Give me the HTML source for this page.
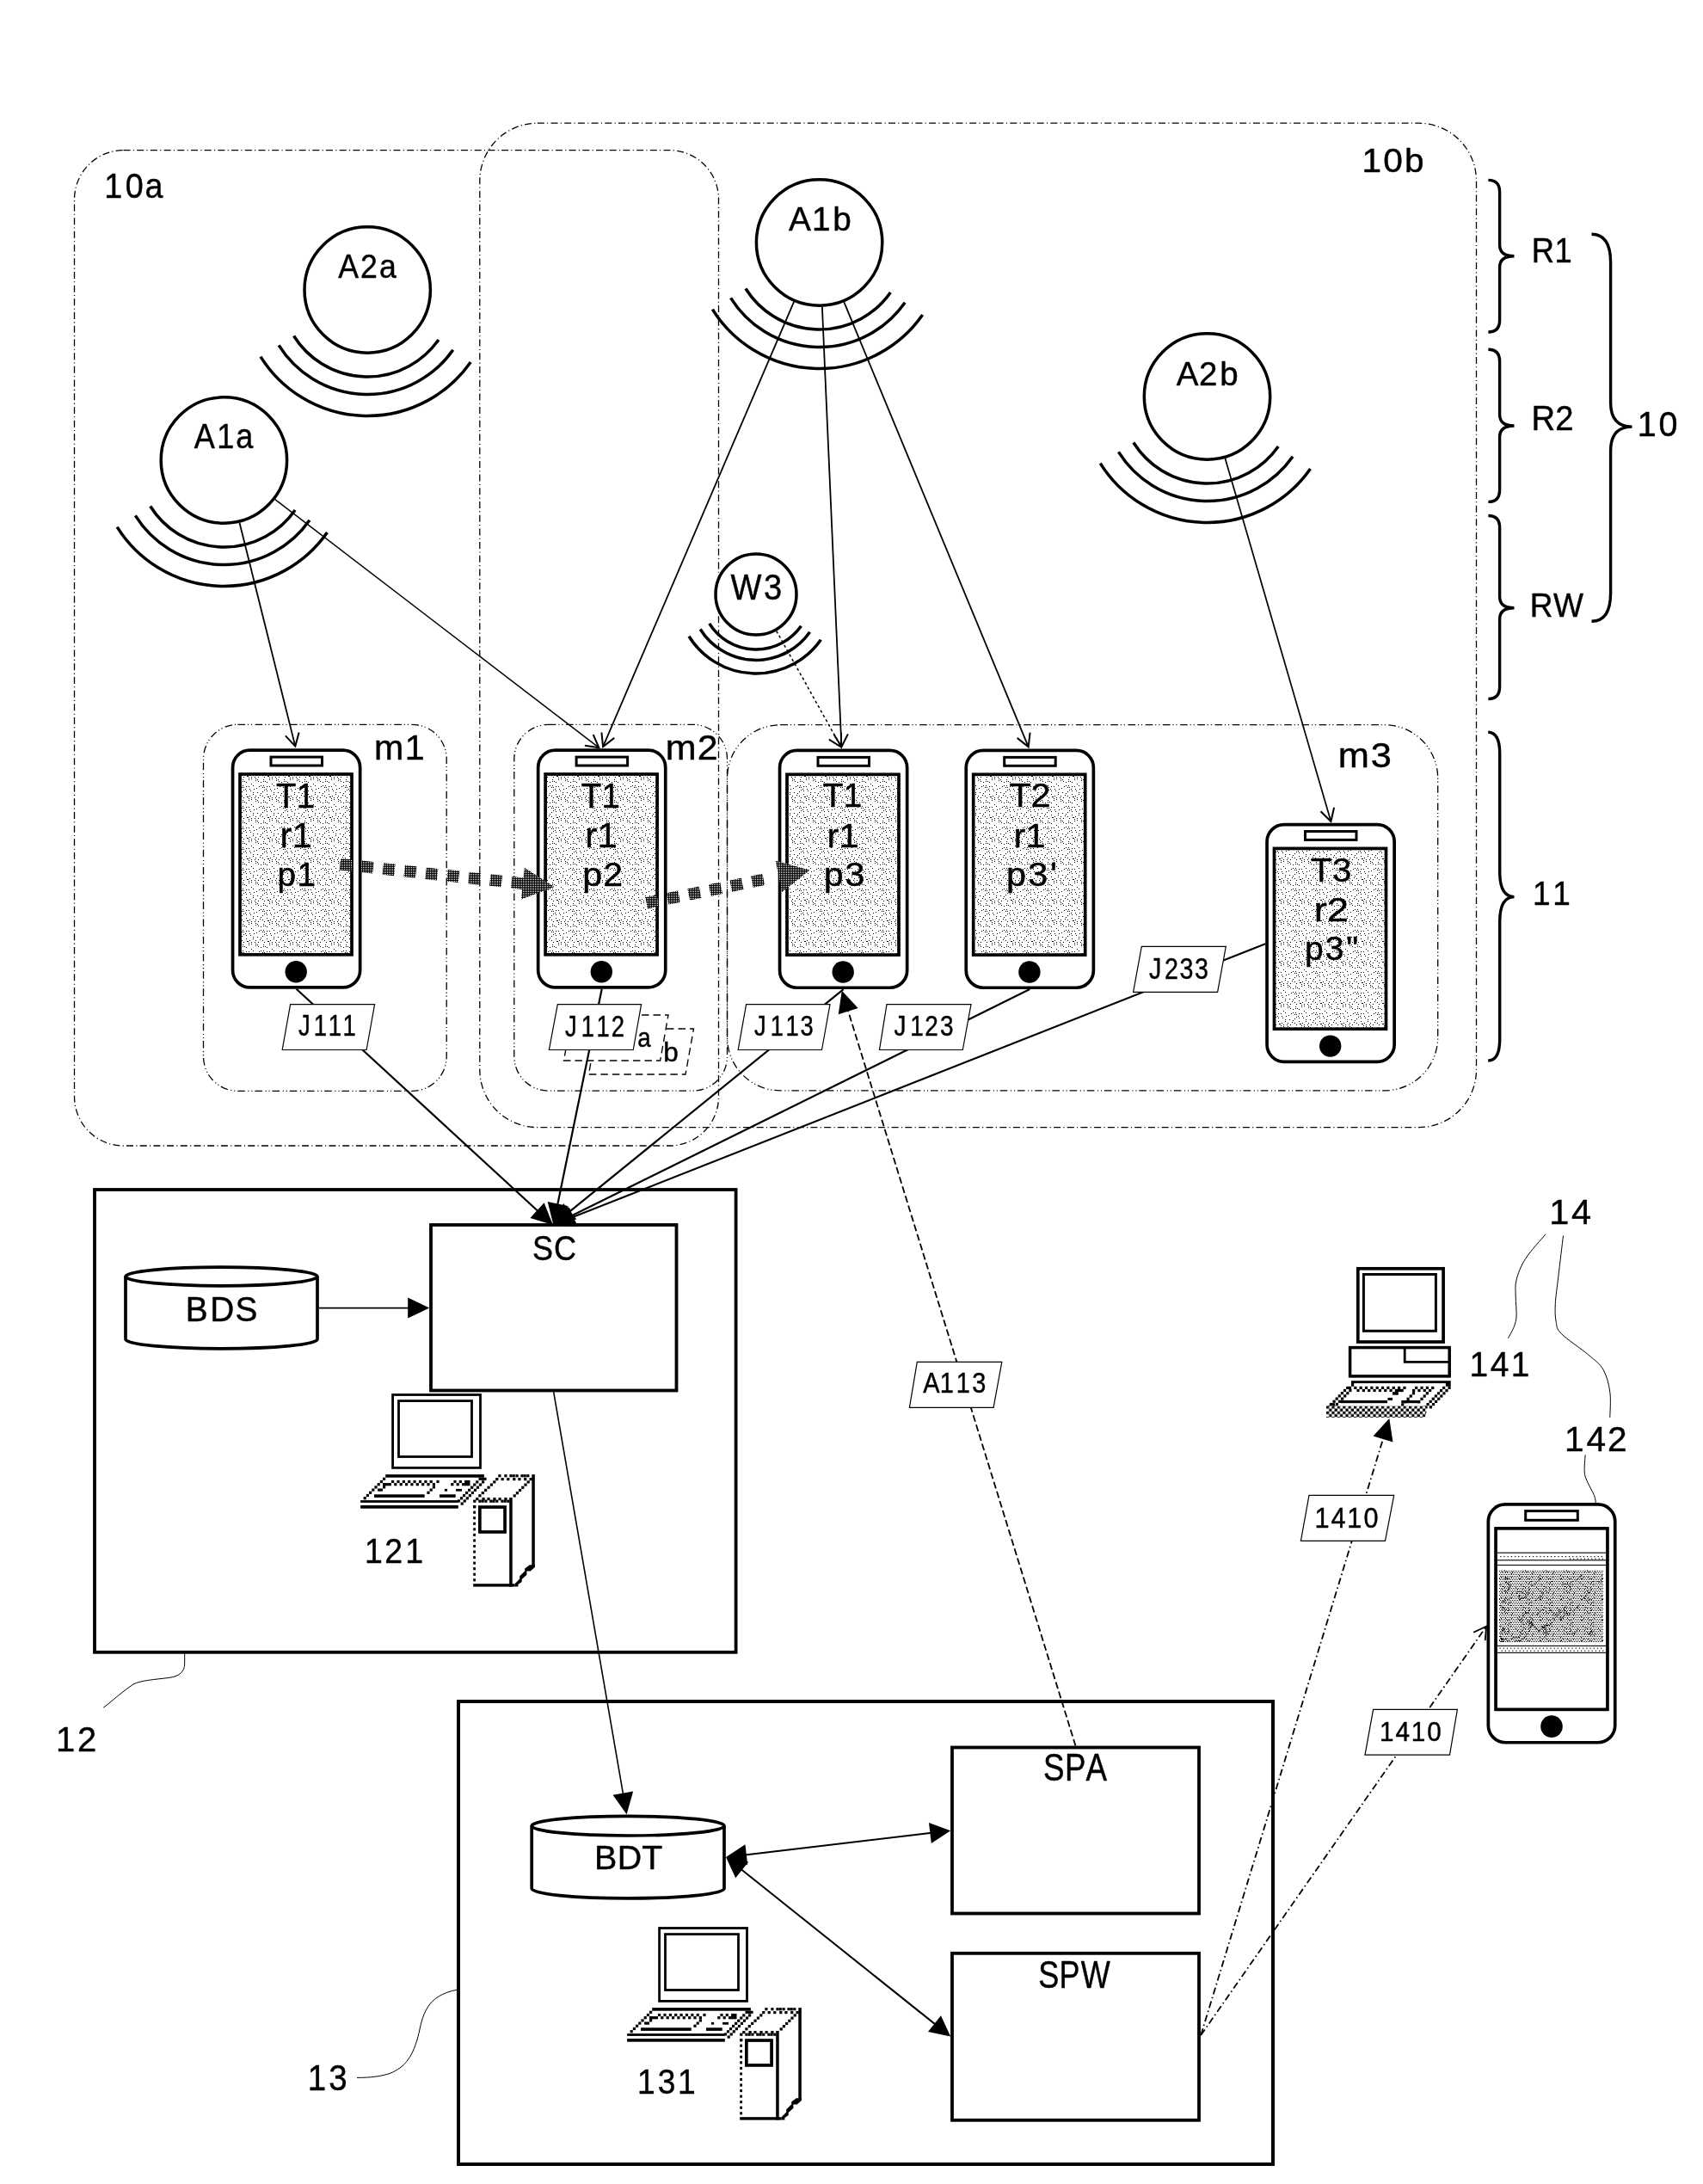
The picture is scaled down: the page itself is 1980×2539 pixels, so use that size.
<!DOCTYPE html>
<html><head><meta charset="utf-8"><title>diagram</title>
<style>html,body{margin:0;padding:0;background:#fff;}svg{display:block;will-change:transform;}text{font-family:"Liberation Sans",sans-serif;}</style>
</head><body>
<svg width="1980" height="2539" viewBox="0 0 1980 2539" font-family="Liberation Sans, sans-serif"><rect width="1980" height="2539" fill="#fff"/><defs>
<pattern id="stip" patternUnits="userSpaceOnUse" width="24" height="24"><rect width="24" height="24" fill="#fff"/><g fill="#000"><rect x="10" y="4" width="1" height="1"/><rect x="12" y="20" width="1" height="1"/><rect x="1" y="2" width="1" height="1"/><rect x="17" y="3" width="1" height="1"/><rect x="11" y="18" width="1" height="1"/><rect x="1" y="16" width="1" height="1"/><rect x="6" y="1" width="1" height="1"/><rect x="2" y="13" width="1" height="1"/><rect x="13" y="2" width="1" height="1"/><rect x="17" y="13" width="1" height="1"/><rect x="1" y="18" width="1" height="1"/><rect x="3" y="7" width="1" height="1"/><rect x="20" y="20" width="1" height="1"/><rect x="18" y="1" width="1" height="1"/><rect x="18" y="18" width="1" height="1"/><rect x="9" y="13" width="1" height="1"/><rect x="4" y="17" width="1" height="1"/><rect x="9" y="17" width="1" height="1"/><rect x="21" y="5" width="1" height="1"/><rect x="18" y="20" width="1" height="1"/><rect x="6" y="11" width="1" height="1"/><rect x="22" y="2" width="1" height="1"/><rect x="19" y="6" width="1" height="1"/><rect x="15" y="21" width="1" height="1"/><rect x="11" y="9" width="1" height="1"/><rect x="7" y="5" width="1" height="1"/><rect x="22" y="7" width="1" height="1"/><rect x="15" y="10" width="1" height="1"/><rect x="23" y="14" width="1" height="1"/><rect x="9" y="19" width="1" height="1"/><rect x="4" y="15" width="1" height="1"/><rect x="22" y="11" width="1" height="1"/><rect x="19" y="15" width="1" height="1"/><rect x="8" y="15" width="1" height="1"/><rect x="22" y="21" width="1" height="1"/><rect x="0" y="14" width="1" height="1"/><rect x="19" y="3" width="1" height="1"/><rect x="15" y="1" width="1" height="1"/><rect x="6" y="9" width="1" height="1"/><rect x="4" y="23" width="1" height="1"/><rect x="12" y="15" width="1" height="1"/><rect x="2" y="5" width="1" height="1"/><rect x="14" y="12" width="1" height="1"/><rect x="17" y="8" width="1" height="1"/></g></pattern>
<pattern id="stip2" patternUnits="userSpaceOnUse" width="24" height="24"><rect width="24" height="24" fill="#fff"/><g fill="#000"><rect x="0" y="0" width="1" height="1"/><rect x="0" y="3" width="1" height="1"/><rect x="0" y="4" width="1" height="1"/><rect x="0" y="8" width="1" height="1"/><rect x="0" y="11" width="1" height="1"/><rect x="0" y="12" width="1" height="1"/><rect x="0" y="16" width="1" height="1"/><rect x="0" y="20" width="1" height="1"/><rect x="1" y="0" width="1" height="1"/><rect x="1" y="2" width="1" height="1"/><rect x="1" y="6" width="1" height="1"/><rect x="1" y="10" width="1" height="1"/><rect x="1" y="14" width="1" height="1"/><rect x="1" y="17" width="1" height="1"/><rect x="1" y="18" width="1" height="1"/><rect x="1" y="21" width="1" height="1"/><rect x="1" y="22" width="1" height="1"/><rect x="2" y="0" width="1" height="1"/><rect x="2" y="4" width="1" height="1"/><rect x="2" y="8" width="1" height="1"/><rect x="2" y="11" width="1" height="1"/><rect x="2" y="12" width="1" height="1"/><rect x="2" y="15" width="1" height="1"/><rect x="2" y="16" width="1" height="1"/><rect x="2" y="20" width="1" height="1"/><rect x="2" y="23" width="1" height="1"/><rect x="3" y="2" width="1" height="1"/><rect x="3" y="6" width="1" height="1"/><rect x="3" y="10" width="1" height="1"/><rect x="3" y="14" width="1" height="1"/><rect x="3" y="18" width="1" height="1"/><rect x="3" y="22" width="1" height="1"/><rect x="4" y="0" width="1" height="1"/><rect x="4" y="4" width="1" height="1"/><rect x="4" y="8" width="1" height="1"/><rect x="4" y="12" width="1" height="1"/><rect x="4" y="14" width="1" height="1"/><rect x="4" y="16" width="1" height="1"/><rect x="4" y="18" width="1" height="1"/><rect x="4" y="20" width="1" height="1"/><rect x="5" y="2" width="1" height="1"/><rect x="5" y="5" width="1" height="1"/><rect x="5" y="6" width="1" height="1"/><rect x="5" y="9" width="1" height="1"/><rect x="5" y="10" width="1" height="1"/><rect x="5" y="14" width="1" height="1"/><rect x="5" y="18" width="1" height="1"/><rect x="5" y="22" width="1" height="1"/><rect x="6" y="0" width="1" height="1"/><rect x="6" y="3" width="1" height="1"/><rect x="6" y="4" width="1" height="1"/><rect x="6" y="8" width="1" height="1"/><rect x="6" y="12" width="1" height="1"/><rect x="6" y="16" width="1" height="1"/><rect x="6" y="20" width="1" height="1"/><rect x="7" y="2" width="1" height="1"/><rect x="7" y="6" width="1" height="1"/><rect x="7" y="10" width="1" height="1"/><rect x="7" y="14" width="1" height="1"/><rect x="7" y="18" width="1" height="1"/><rect x="7" y="22" width="1" height="1"/><rect x="8" y="0" width="1" height="1"/><rect x="8" y="4" width="1" height="1"/><rect x="8" y="8" width="1" height="1"/><rect x="8" y="12" width="1" height="1"/><rect x="8" y="16" width="1" height="1"/><rect x="8" y="20" width="1" height="1"/><rect x="9" y="2" width="1" height="1"/><rect x="9" y="6" width="1" height="1"/><rect x="9" y="10" width="1" height="1"/><rect x="9" y="14" width="1" height="1"/><rect x="9" y="18" width="1" height="1"/><rect x="9" y="22" width="1" height="1"/><rect x="10" y="0" width="1" height="1"/><rect x="10" y="4" width="1" height="1"/><rect x="10" y="8" width="1" height="1"/><rect x="10" y="12" width="1" height="1"/><rect x="10" y="16" width="1" height="1"/><rect x="10" y="20" width="1" height="1"/><rect x="10" y="21" width="1" height="1"/><rect x="11" y="2" width="1" height="1"/><rect x="11" y="6" width="1" height="1"/><rect x="11" y="10" width="1" height="1"/><rect x="11" y="14" width="1" height="1"/><rect x="11" y="18" width="1" height="1"/><rect x="11" y="22" width="1" height="1"/><rect x="12" y="0" width="1" height="1"/><rect x="12" y="4" width="1" height="1"/><rect x="12" y="8" width="1" height="1"/><rect x="12" y="12" width="1" height="1"/><rect x="12" y="16" width="1" height="1"/><rect x="12" y="20" width="1" height="1"/><rect x="12" y="23" width="1" height="1"/><rect x="13" y="2" width="1" height="1"/><rect x="13" y="6" width="1" height="1"/><rect x="13" y="10" width="1" height="1"/><rect x="13" y="14" width="1" height="1"/><rect x="13" y="18" width="1" height="1"/><rect x="13" y="22" width="1" height="1"/><rect x="14" y="0" width="1" height="1"/><rect x="14" y="4" width="1" height="1"/><rect x="14" y="7" width="1" height="1"/><rect x="14" y="8" width="1" height="1"/><rect x="14" y="11" width="1" height="1"/><rect x="14" y="12" width="1" height="1"/><rect x="14" y="16" width="1" height="1"/><rect x="14" y="20" width="1" height="1"/><rect x="15" y="2" width="1" height="1"/><rect x="15" y="6" width="1" height="1"/><rect x="15" y="10" width="1" height="1"/><rect x="15" y="11" width="1" height="1"/><rect x="15" y="14" width="1" height="1"/><rect x="15" y="18" width="1" height="1"/><rect x="15" y="22" width="1" height="1"/><rect x="16" y="0" width="1" height="1"/><rect x="16" y="4" width="1" height="1"/><rect x="16" y="8" width="1" height="1"/><rect x="16" y="12" width="1" height="1"/><rect x="16" y="16" width="1" height="1"/><rect x="16" y="18" width="1" height="1"/><rect x="16" y="20" width="1" height="1"/><rect x="17" y="2" width="1" height="1"/><rect x="17" y="6" width="1" height="1"/><rect x="17" y="9" width="1" height="1"/><rect x="17" y="10" width="1" height="1"/><rect x="17" y="14" width="1" height="1"/><rect x="17" y="18" width="1" height="1"/><rect x="17" y="22" width="1" height="1"/><rect x="18" y="0" width="1" height="1"/><rect x="18" y="3" width="1" height="1"/><rect x="18" y="4" width="1" height="1"/><rect x="18" y="8" width="1" height="1"/><rect x="18" y="12" width="1" height="1"/><rect x="18" y="16" width="1" height="1"/><rect x="18" y="20" width="1" height="1"/><rect x="18" y="23" width="1" height="1"/><rect x="19" y="2" width="1" height="1"/><rect x="19" y="6" width="1" height="1"/><rect x="19" y="10" width="1" height="1"/><rect x="19" y="14" width="1" height="1"/><rect x="19" y="18" width="1" height="1"/><rect x="19" y="20" width="1" height="1"/><rect x="19" y="22" width="1" height="1"/><rect x="20" y="0" width="1" height="1"/><rect x="20" y="4" width="1" height="1"/><rect x="20" y="8" width="1" height="1"/><rect x="20" y="12" width="1" height="1"/><rect x="20" y="16" width="1" height="1"/><rect x="20" y="20" width="1" height="1"/><rect x="21" y="1" width="1" height="1"/><rect x="21" y="2" width="1" height="1"/><rect x="21" y="6" width="1" height="1"/><rect x="21" y="10" width="1" height="1"/><rect x="21" y="14" width="1" height="1"/><rect x="21" y="18" width="1" height="1"/><rect x="21" y="21" width="1" height="1"/><rect x="21" y="22" width="1" height="1"/><rect x="22" y="0" width="1" height="1"/><rect x="22" y="3" width="1" height="1"/><rect x="22" y="4" width="1" height="1"/><rect x="22" y="8" width="1" height="1"/><rect x="22" y="9" width="1" height="1"/><rect x="22" y="12" width="1" height="1"/><rect x="22" y="15" width="1" height="1"/><rect x="22" y="16" width="1" height="1"/><rect x="22" y="20" width="1" height="1"/><rect x="23" y="2" width="1" height="1"/><rect x="23" y="6" width="1" height="1"/><rect x="23" y="10" width="1" height="1"/><rect x="23" y="14" width="1" height="1"/><rect x="23" y="18" width="1" height="1"/><rect x="23" y="22" width="1" height="1"/></g></pattern>
<pattern id="stip3" patternUnits="userSpaceOnUse" width="24" height="24"><rect width="24" height="24" fill="#fff"/><g fill="#000"><rect x="19" y="8" width="1" height="1"/><rect x="23" y="11" width="1" height="1"/><rect x="22" y="23" width="1" height="1"/><rect x="20" y="16" width="1" height="1"/><rect x="0" y="14" width="1" height="1"/><rect x="7" y="20" width="1" height="1"/><rect x="1" y="5" width="1" height="1"/><rect x="3" y="11" width="1" height="1"/><rect x="15" y="7" width="1" height="1"/><rect x="12" y="17" width="1" height="1"/><rect x="3" y="18" width="1" height="1"/><rect x="7" y="0" width="1" height="1"/><rect x="23" y="6" width="1" height="1"/><rect x="13" y="8" width="1" height="1"/><rect x="5" y="12" width="1" height="1"/><rect x="5" y="2" width="1" height="1"/><rect x="4" y="19" width="1" height="1"/><rect x="19" y="14" width="1" height="1"/><rect x="4" y="4" width="1" height="1"/><rect x="0" y="0" width="1" height="1"/><rect x="6" y="6" width="1" height="1"/><rect x="5" y="5" width="1" height="1"/><rect x="9" y="10" width="1" height="1"/><rect x="6" y="17" width="1" height="1"/><rect x="21" y="20" width="1" height="1"/><rect x="6" y="5" width="1" height="1"/><rect x="22" y="6" width="1" height="1"/><rect x="12" y="9" width="1" height="1"/><rect x="0" y="11" width="1" height="1"/><rect x="13" y="5" width="1" height="1"/><rect x="4" y="8" width="1" height="1"/><rect x="2" y="10" width="1" height="1"/><rect x="9" y="19" width="1" height="1"/><rect x="18" y="0" width="1" height="1"/></g></pattern>
<pattern id="dark" patternUnits="userSpaceOnUse" width="2" height="2"><rect width="2" height="2" fill="#000"/><rect x="0" y="0" width="1" height="1" fill="#fff"/></pattern>
<pattern id="check" patternUnits="userSpaceOnUse" width="6" height="6"><rect width="6" height="6" fill="#fff"/><rect width="3" height="3" fill="#000"/><rect x="3" y="3" width="3" height="3" fill="#000"/></pattern>
<pattern id="chk32" patternUnits="userSpaceOnUse" width="6.4" height="6.4" patternTransform="translate(1542 1634.4)"><rect width="6.4" height="6.4" fill="#fff"/><rect width="3.2" height="3.2" fill="#000"/><rect x="3.2" y="3.2" width="3.2" height="3.2" fill="#000"/></pattern>
<pattern id="dotl" patternUnits="userSpaceOnUse" width="3" height="3"><rect width="3" height="3" fill="#fff"/><rect width="1.5" height="1.5" fill="#000"/></pattern>
</defs><rect x="86.5" y="174.7" width="749" height="1157.3" rx="57" ry="57" fill="none" stroke="#000" stroke-width="1.3" stroke-dasharray="8 3.3 1.1 3.3"/>
<rect x="557.8" y="143.2" width="1158.7" height="1167.4" rx="67" ry="67" fill="none" stroke="#000" stroke-width="1.3" stroke-dasharray="8 3.3 1.1 3.3"/>
<rect x="236.5" y="842.3" width="282.7" height="426" rx="40" ry="40" fill="none" stroke="#000" stroke-width="1.3" stroke-dasharray="8.6 2.9 1.1 2.9 1.1 3.6"/>
<rect x="597.8" y="842.3" width="247.7" height="425.8" rx="40" ry="40" fill="none" stroke="#000" stroke-width="1.3" stroke-dasharray="8.6 2.9 1.1 2.9 1.1 3.6"/>
<rect x="845.5" y="842.7" width="826.2" height="425.2" rx="62" ry="62" fill="none" stroke="#000" stroke-width="1.3" stroke-dasharray="8.6 2.9 1.1 2.9 1.1 3.6"/>
<circle cx="427.2" cy="337" r="73.2" fill="#fff" stroke="#000" stroke-width="3.5"/>
<path d="M509.93 394.93 A101 101 0 0 1 341.55 390.52" fill="none" stroke="#000" stroke-width="3.5"/>
<path d="M526.73 406.69 A121.5 121.5 0 0 1 324.16 401.39" fill="none" stroke="#000" stroke-width="3.5"/>
<path d="M547.21 421.03 A146.5 146.5 0 0 1 302.96 414.63" fill="none" stroke="#000" stroke-width="3.5"/>
<circle cx="260.4" cy="535" r="73.2" fill="#fff" stroke="#000" stroke-width="3.5"/>
<path d="M343.13 592.93 A101 101 0 0 1 174.75 588.52" fill="none" stroke="#000" stroke-width="3.5"/>
<path d="M359.93 604.69 A121.5 121.5 0 0 1 157.36 599.39" fill="none" stroke="#000" stroke-width="3.5"/>
<path d="M380.41 619.03 A146.5 146.5 0 0 1 136.16 612.63" fill="none" stroke="#000" stroke-width="3.5"/>
<circle cx="952.6" cy="282" r="73.2" fill="#fff" stroke="#000" stroke-width="3.5"/>
<path d="M1035.33 339.93 A101 101 0 0 1 866.95 335.52" fill="none" stroke="#000" stroke-width="3.5"/>
<path d="M1052.13 351.69 A121.5 121.5 0 0 1 849.56 346.39" fill="none" stroke="#000" stroke-width="3.5"/>
<path d="M1072.61 366.03 A146.5 146.5 0 0 1 828.36 359.63" fill="none" stroke="#000" stroke-width="3.5"/>
<circle cx="1403.5" cy="461" r="73.2" fill="#fff" stroke="#000" stroke-width="3.5"/>
<path d="M1486.23 518.93 A101 101 0 0 1 1317.85 514.52" fill="none" stroke="#000" stroke-width="3.5"/>
<path d="M1503.03 530.69 A121.5 121.5 0 0 1 1300.46 525.39" fill="none" stroke="#000" stroke-width="3.5"/>
<path d="M1523.51 545.03 A146.5 146.5 0 0 1 1279.26 538.63" fill="none" stroke="#000" stroke-width="3.5"/>
<circle cx="879" cy="691" r="47" fill="#fff" stroke="#000" stroke-width="3.5"/>
<path d="M931.43 727.71 A64 64 0 0 1 824.72 724.91" fill="none" stroke="#000" stroke-width="3.5"/>
<path d="M941.58 734.82 A76.4 76.4 0 0 1 814.21 731.49" fill="none" stroke="#000" stroke-width="3.5"/>
<path d="M954.36 743.77 A92 92 0 0 1 800.98 739.75" fill="none" stroke="#000" stroke-width="3.5"/>
<text transform="translate(0 322.7) scale(0.9182 1)" x="428.34 456.23 480.16" y="0" font-size="38.81" font-family="Liberation Sans" fill="#000" stroke="#000" stroke-width="0.45">A2a</text>
<text transform="translate(0 521) scale(0.9053 1)" x="249.48 278.54 302.82" y="0" font-size="39.83" font-family="Liberation Sans" fill="#000" stroke="#000" stroke-width="0.45">A1a</text>
<text transform="translate(0 268.4) scale(0.9893 1)" x="927.04 954.12 978.74" y="0" font-size="39.19" font-family="Liberation Sans" fill="#000" stroke="#000" stroke-width="0.45">A1b</text>
<text transform="translate(0 447.5) scale(0.9784 1)" x="1397.87 1424.68 1449.64" y="0" font-size="39.33" font-family="Liberation Sans" fill="#000" stroke="#000" stroke-width="0.45">A2b</text>
<text transform="translate(0 696.9) scale(0.9080 1)" x="935.66 978.11" y="0" font-size="41.96" font-family="Liberation Sans" fill="#000" stroke="#000" stroke-width="0.45">W3</text>
<text transform="translate(0 230.4) scale(0.9328 1)" x="130.07 156.36 180.52" y="0" font-size="40.39" font-family="Liberation Sans" fill="#000" stroke="#000" stroke-width="0.45">10a</text>
<text transform="translate(0 200) scale(1.0512 1)" x="1506.35 1529.95 1553.57" y="0" font-size="38.64" font-family="Liberation Sans" fill="#000" stroke="#000" stroke-width="0.45">10b</text>
<path d="M1730.4 209.4 Q1743.6 209.4 1743.6 223.4 L1743.6 284.7 Q1743.6 297.7 1760.5 297.7 Q1743.6 297.7 1743.6 310.7 L1743.6 372 Q1743.6 386 1730.4 386" fill="none" stroke="#000" stroke-width="3.4"/>
<path d="M1730.4 406.2 Q1743.6 406.2 1743.6 420.2 L1743.6 482 Q1743.6 495 1760.5 495 Q1743.6 495 1743.6 508 L1743.6 569.4 Q1743.6 583.4 1730.4 583.4" fill="none" stroke="#000" stroke-width="3.4"/>
<path d="M1730.4 599.5 Q1743.6 599.5 1743.6 613.5 L1743.6 693.7 Q1743.6 706.7 1760.5 706.7 Q1743.6 706.7 1743.6 719.7 L1743.6 798.5 Q1743.6 812.5 1730.4 812.5" fill="none" stroke="#000" stroke-width="3.4"/>
<path d="M1850.5 272.2 Q1872.6 272.2 1872.6 305.2 L1872.6 468.1 Q1872.6 496.1 1897.5 496.1 Q1872.6 496.1 1872.6 524.1 L1872.6 689.3 Q1872.6 722.3 1850.5 722.3" fill="none" stroke="#000" stroke-width="3.4"/>
<path d="M1730.2 851.2 Q1743.7 851.2 1743.7 876.2 L1743.7 1013.6 Q1743.7 1042.6 1760.5 1042.6 Q1743.7 1042.6 1743.7 1071.6 L1743.7 1208 Q1743.7 1233 1730.2 1233" fill="none" stroke="#000" stroke-width="3.4"/>
<text transform="translate(0 305.1) scale(0.8929 1)" x="1994.23 2024.41" y="0" font-size="40.7" font-family="Liberation Sans" fill="#000" stroke="#000" stroke-width="0.45">R1</text>
<text transform="translate(0 500) scale(0.9536 1)" x="1867.04 1896.28" y="0" font-size="40.1" font-family="Liberation Sans" fill="#000" stroke="#000" stroke-width="0.45">R2</text>
<text transform="translate(0 716.5) scale(0.9505 1)" x="1871.33 1899.96" y="0" font-size="38.95" font-family="Liberation Sans" fill="#000" stroke="#000" stroke-width="0.45">RW</text>
<text transform="translate(0 506.5) scale(0.9893 1)" x="1924.44 1949.28" y="0" font-size="39.96" font-family="Liberation Sans" fill="#000" stroke="#000" stroke-width="0.45">10</text>
<text transform="translate(0 1051.7) scale(0.9351 1)" x="1905.55 1930.53" y="0" font-size="39.54" font-family="Liberation Sans" fill="#000" stroke="#000" stroke-width="0.45">11</text>
<text transform="translate(0 883.4) scale(0.9980 1)" x="435.8 471.71" y="0" font-size="41.28" font-family="Liberation Sans" fill="#000" stroke="#000" stroke-width="0.45">m1</text>
<text transform="translate(0 883.2) scale(1.0655 1)" x="726.21 761.02" y="0" font-size="40.39" font-family="Liberation Sans" fill="#000" stroke="#000" stroke-width="0.45">m2</text>
<text transform="translate(0 892) scale(1.0820 1)" x="1437.89 1473.07" y="0" font-size="40.1" font-family="Liberation Sans" fill="#000" stroke="#000" stroke-width="0.45">m3</text>
<line x1="278.51" y1="607.68" x2="343.06" y2="866.63" stroke="#000" stroke-width="1.8" stroke-linecap="butt"/>
<path d="M347.36 852.44 L343.3 867.6 L332.59 856.12" fill="none" stroke="#000" stroke-width="2" stroke-linejoin="miter" stroke-linecap="square"/>
<line x1="319.84" y1="580.57" x2="695.61" y2="868.69" stroke="#000" stroke-width="1.5" stroke-linecap="butt"/>
<path d="M690.13 854.9 L696.4 869.3 L680.87 866.99" fill="none" stroke="#000" stroke-width="2" stroke-linejoin="miter" stroke-linecap="square"/>
<line x1="923.06" y1="350.83" x2="701.49" y2="867.18" stroke="#000" stroke-width="1.8" stroke-linecap="butt"/>
<path d="M713.51 858.48 L701.1 868.1 L699.52 852.48" fill="none" stroke="#000" stroke-width="2" stroke-linejoin="miter" stroke-linecap="square"/>
<line x1="955.89" y1="356.83" x2="978.36" y2="867.3" stroke="#000" stroke-width="1.8" stroke-linecap="butt"/>
<path d="M985.4 854.25 L978.4 868.3 L970.19 854.92" fill="none" stroke="#000" stroke-width="2" stroke-linejoin="miter" stroke-linecap="square"/>
<line x1="981.29" y1="351.19" x2="1195.32" y2="867.38" stroke="#000" stroke-width="1.8" stroke-linecap="butt"/>
<path d="M1197.47 852.7 L1195.7 868.3 L1183.41 858.53" fill="none" stroke="#000" stroke-width="2" stroke-linejoin="miter" stroke-linecap="square"/>
<line x1="1424.45" y1="532.91" x2="1547.12" y2="954.04" stroke="#000" stroke-width="1.7" stroke-linecap="butt"/>
<path d="M1550.87 939.69 L1547.4 955 L1536.25 943.95" fill="none" stroke="#000" stroke-width="2" stroke-linejoin="miter" stroke-linecap="square"/>
<line x1="902.72" y1="733.53" x2="977.51" y2="867.63" stroke="#000" stroke-width="1.5" stroke-dasharray="3.2 3" stroke-linecap="butt"/>
<path d="M977.96 852.8 L978 868.5 L964.66 860.22" fill="none" stroke="#000" stroke-width="2" stroke-linejoin="miter" stroke-linecap="square"/>
<path d="M694 1196 L806.5 1196 L797 1249 L684.4 1249 Z" fill="#fff" stroke="#000" stroke-width="1.35" stroke-dasharray="8.5 5"/>
<text transform="translate(0 1233.6) scale(1.0091 1)" x="764.19" y="0" font-size="31.19" font-family="Liberation Mono" fill="#000" stroke="#000" stroke-width="0.45">b</text>
<path d="M665 1180 L777 1180 L767.6 1233 L655.5 1233 Z" fill="#fff" stroke="#000" stroke-width="1.35" stroke-dasharray="8.5 5"/>
<text transform="translate(0 1217.4) scale(0.8641 1)" x="857.81" y="0" font-size="32.15" font-family="Liberation Mono" fill="#000" stroke="#000" stroke-width="0.45">a</text>
<line x1="344.6" y1="1149.8" x2="635.54" y2="1417.23" stroke="#000" stroke-width="2.2" stroke-linecap="butt"/>
<line x1="699.7" y1="1149.8" x2="645.41" y2="1414.2" stroke="#000" stroke-width="2.2" stroke-linecap="butt"/>
<line x1="980.6" y1="1150.1" x2="651.06" y2="1417.7" stroke="#000" stroke-width="2.2" stroke-linecap="butt"/>
<line x1="1197.3" y1="1150.1" x2="652.16" y2="1419.57" stroke="#000" stroke-width="2.2" stroke-linecap="butt"/>
<line x1="1471.2" y1="1097.2" x2="652.5" y2="1420.33" stroke="#000" stroke-width="2.2" stroke-linecap="butt"/>
<path d="M642.9 1424 L616.37 1415.92 L632.62 1398.25 Z" fill="#000"/>
<path d="M643.4 1424 L636.67 1397.1 L660.18 1401.92 Z" fill="#000"/>
<path d="M643.3 1424 L655.14 1398.93 L670.27 1417.56 Z" fill="#000"/>
<path d="M643.2 1424 L660.29 1402.16 L670.93 1423.68 Z" fill="#000"/>
<path d="M643.2 1424 L662.05 1403.66 L670.86 1425.98 Z" fill="#000"/>
<line x1="1250.5" y1="2029.6" x2="983.23" y2="1166.03" stroke="#000" stroke-width="1.8" stroke-dasharray="8 3.6" stroke-linecap="butt"/>
<path d="M978.8 1151.7 L997.65 1172.03 L974.73 1179.13 Z" fill="#000"/>
<path d="M1327.3 1100.4 L1425.3 1100.4 L1415.6 1153.4 L1317.6 1153.4 Z" fill="#fff" stroke="#000" stroke-width="1.2"/>
<text transform="translate(0 1137.7) scale(0.8335 1)" x="1602.82 1624.52 1645.58 1666.58" y="0" font-size="34.38" font-family="Liberation Mono" fill="#000" stroke="#000" stroke-width="0.45">J233</text>
<path d="M337.6 1167.6 L435.6 1167.6 L426.1 1220.5 L328.2 1220.5 Z" fill="#fff" stroke="#000" stroke-width="1.2"/>
<text transform="translate(0 1204.4) scale(0.8000 1)" x="433.73 456.09 477.08 498.08" y="0" font-size="34.31" font-family="Liberation Mono" fill="#000" stroke="#000" stroke-width="0.45">J111</text>
<path d="M648.3 1167.6 L745.6 1167.6 L736.2 1220.5 L638.4 1220.5 Z" fill="#fff" stroke="#000" stroke-width="1.2"/>
<text transform="translate(0 1204.6) scale(0.8000 1)" x="821.14 844.79 866.94 888.34" y="0" font-size="34.23" font-family="Liberation Mono" fill="#000" stroke="#000" stroke-width="0.45">J112</text>
<path d="M867.6 1167.6 L965 1167.6 L955.5 1220.5 L858.2 1220.5 Z" fill="#fff" stroke="#000" stroke-width="1.2"/>
<text transform="translate(0 1204.4) scale(0.8266 1)" x="1060.91 1083.73 1105.11 1125.82" y="0" font-size="33.04" font-family="Liberation Mono" fill="#000" stroke="#000" stroke-width="0.45">J113</text>
<path d="M1031 1167.6 L1129 1167.6 L1119.3 1220.5 L1022.5 1220.5 Z" fill="#fff" stroke="#000" stroke-width="1.2"/>
<text transform="translate(0 1204.3) scale(0.8579 1)" x="1211.76 1233.62 1253.45 1274" y="0" font-size="32.59" font-family="Liberation Mono" fill="#000" stroke="#000" stroke-width="0.45">J123</text>
<path d="M1066.3 1583.3 L1164.8 1583.3 L1155.1 1636.3 L1057.4 1636.3 Z" fill="#fff" stroke="#000" stroke-width="1.2"/>
<text transform="translate(0 1619.2) scale(0.8742 1)" x="1227.68 1250.03 1271.84 1292.96" y="0" font-size="33.04" font-family="Liberation Mono" fill="#000" stroke="#000" stroke-width="0.45">A113</text>
<rect x="270.55" y="872.15" width="148.1" height="275.8" rx="20" ry="20" fill="#fff" stroke="#000" stroke-width="3.7"/>
<rect x="315" y="880.1" width="59.5" height="9.9" fill="#fff" stroke="#000" stroke-width="3"/>
<rect x="279" y="900" width="130" height="209.8" fill="url(#stip)" stroke="#000" stroke-width="3.7"/>
<circle cx="344.2" cy="1129.7" r="12.7" fill="#000"/>
<rect x="625.65" y="872.15" width="148.1" height="275.8" rx="20" ry="20" fill="#fff" stroke="#000" stroke-width="3.7"/>
<rect x="670.1" y="880.1" width="59.5" height="9.9" fill="#fff" stroke="#000" stroke-width="3"/>
<rect x="634.1" y="900" width="130" height="209.8" fill="url(#stip)" stroke="#000" stroke-width="3.7"/>
<circle cx="699.3" cy="1129.7" r="12.7" fill="#000"/>
<rect x="906.55" y="872.45" width="148.1" height="275.8" rx="20" ry="20" fill="#fff" stroke="#000" stroke-width="3.7"/>
<rect x="951" y="880.4" width="59.5" height="9.9" fill="#fff" stroke="#000" stroke-width="3"/>
<rect x="915" y="900.3" width="130" height="209.8" fill="url(#stip)" stroke="#000" stroke-width="3.7"/>
<circle cx="980.2" cy="1130" r="12.7" fill="#000"/>
<rect x="1123.25" y="872.45" width="148.1" height="275.8" rx="20" ry="20" fill="#fff" stroke="#000" stroke-width="3.7"/>
<rect x="1167.7" y="880.4" width="59.5" height="9.9" fill="#fff" stroke="#000" stroke-width="3"/>
<rect x="1131.7" y="900.3" width="130" height="209.8" fill="url(#stip)" stroke="#000" stroke-width="3.7"/>
<circle cx="1196.9" cy="1130" r="12.7" fill="#000"/>
<rect x="1473.05" y="958.55" width="148.1" height="275.8" rx="20" ry="20" fill="#fff" stroke="#000" stroke-width="3.7"/>
<rect x="1517.5" y="966.5" width="59.5" height="9.9" fill="#fff" stroke="#000" stroke-width="3"/>
<rect x="1481.5" y="986.4" width="130" height="209.8" fill="url(#stip)" stroke="#000" stroke-width="3.7"/>
<circle cx="1546.7" cy="1216.1" r="12.7" fill="#000"/>
<text transform="translate(0 938.8) scale(0.9615 1)" x="333.96 358.47" y="0" font-size="39.97" font-family="Liberation Sans" fill="#000" stroke="#000" stroke-width="0.45">T1</text>
<text transform="translate(0 984.9) scale(1.0419 1)" x="312.45 326.01" y="0" font-size="39.97" font-family="Liberation Sans" fill="#000" stroke="#000" stroke-width="0.45">r1</text>
<text transform="translate(0 1029.7) scale(0.9944 1)" x="324.36 347.54" y="0" font-size="38.95" font-family="Liberation Sans" fill="#000" stroke="#000" stroke-width="0.45">p1</text>
<text transform="translate(0 938.8) scale(0.9638 1)" x="701.19 725.7" y="0" font-size="39.97" font-family="Liberation Sans" fill="#000" stroke="#000" stroke-width="0.45">T1</text>
<text transform="translate(0 984.5) scale(1.0516 1)" x="646.88 660.45" y="0" font-size="39.97" font-family="Liberation Sans" fill="#000" stroke="#000" stroke-width="0.45">r1</text>
<text transform="translate(0 1029.7) scale(1.0434 1)" x="649 672.05" y="0" font-size="39.38" font-family="Liberation Sans" fill="#000" stroke="#000" stroke-width="0.45">p2</text>
<text transform="translate(0 938.4) scale(0.9929 1)" x="963.38 987.62" y="0" font-size="39.54" font-family="Liberation Sans" fill="#000" stroke="#000" stroke-width="0.45">T1</text>
<text transform="translate(0 984.7) scale(1.0573 1)" x="909.33 922.7" y="0" font-size="39.39" font-family="Liberation Sans" fill="#000" stroke="#000" stroke-width="0.45">r1</text>
<text transform="translate(0 1030.1) scale(1.0615 1)" x="902.28 925.6" y="0" font-size="38.81" font-family="Liberation Sans" fill="#000" stroke="#000" stroke-width="0.45">p3</text>
<text transform="translate(0 938.4) scale(1.0646 1)" x="1102.23 1125.76" y="0" font-size="38.95" font-family="Liberation Sans" fill="#000" stroke="#000" stroke-width="0.45">T2</text>
<text transform="translate(0 984.7) scale(1.0573 1)" x="1114.57 1127.94" y="0" font-size="39.39" font-family="Liberation Sans" fill="#000" stroke="#000" stroke-width="0.45">r1</text>
<text transform="translate(0 1030.1) scale(1.0684 1)" x="1095.11 1118.68 1142.76" y="0" font-size="38.81" font-family="Liberation Sans" fill="#000" stroke="#000" stroke-width="0.45">p3'</text>
<text transform="translate(0 1024.8) scale(1.0152 1)" x="1501.23 1525.7" y="0" font-size="39.53" font-family="Liberation Sans" fill="#000" stroke="#000" stroke-width="0.45">T3</text>
<text transform="translate(0 1070.7) scale(1.1551 1)" x="1322.62 1335.7" y="0" font-size="39.38" font-family="Liberation Sans" fill="#000" stroke="#000" stroke-width="0.45">r2</text>
<text transform="translate(0 1116.1) scale(1.0082 1)" x="1504.6 1528.12 1552.43" y="0" font-size="38.67" font-family="Liberation Sans" fill="#000" stroke="#000" stroke-width="0.45">p3&quot;</text>
<path d="M408.25 1012.88 L409.68 999.35 L396.15 997.92 L394.72 1011.45 Z" fill="url(#dark)"/>
<path d="M433.16 1015.51 L434.59 1001.98 L421.06 1000.56 L419.63 1014.08 Z" fill="url(#dark)"/>
<path d="M458.07 1018.14 L459.5 1004.62 L445.97 1003.19 L444.55 1016.71 Z" fill="url(#dark)"/>
<path d="M482.98 1020.77 L484.41 1007.25 L470.89 1005.82 L469.46 1019.34 Z" fill="url(#dark)"/>
<path d="M507.89 1023.4 L509.32 1009.88 L495.8 1008.45 L494.37 1021.98 Z" fill="url(#dark)"/>
<path d="M532.8 1026.04 L534.23 1012.51 L520.71 1011.08 L519.28 1024.61 Z" fill="url(#dark)"/>
<path d="M557.72 1028.67 L559.14 1015.14 L545.62 1013.72 L544.19 1027.24 Z" fill="url(#dark)"/>
<path d="M582.63 1031.3 L584.06 1017.78 L570.53 1016.35 L569.1 1029.87 Z" fill="url(#dark)"/>
<path d="M607.54 1033.93 L608.97 1020.41 L595.44 1018.98 L594.01 1032.5 Z" fill="url(#dark)"/>
<path d="M644.5 1031 L605.96 1045.53 L609.85 1008.74 Z" fill="url(#dark)"/>
<path d="M766.31 1053.82 L763.62 1040.49 L750.29 1043.18 L752.98 1056.51 Z" fill="url(#dark)"/>
<path d="M790.87 1048.88 L788.18 1035.54 L774.85 1038.23 L777.53 1051.56 Z" fill="url(#dark)"/>
<path d="M815.42 1043.93 L812.74 1030.6 L799.4 1033.28 L802.09 1046.62 Z" fill="url(#dark)"/>
<path d="M839.98 1038.98 L837.29 1025.65 L823.96 1028.34 L826.65 1041.67 Z" fill="url(#dark)"/>
<path d="M864.54 1034.04 L861.85 1020.71 L848.52 1023.39 L851.2 1036.72 Z" fill="url(#dark)"/>
<path d="M889.09 1029.09 L886.41 1015.76 L873.08 1018.45 L875.76 1031.78 Z" fill="url(#dark)"/>
<path d="M941.5 1011.6 L909.08 1037 L901.77 1000.73 Z" fill="url(#dark)"/>
<rect x="110" y="1383" width="745.6" height="537.8" fill="none" stroke="#000" stroke-width="3.8"/>
<rect x="501" y="1424" width="285.5" height="192.5" fill="none" stroke="#000" stroke-width="3.8"/>
<text transform="translate(0 1464.6) scale(0.8738 1)" x="708.54 737.12" y="0" font-size="41.25" font-family="Liberation Sans" fill="#000" stroke="#000" stroke-width="0.45">SC</text>
<path d="M146 1484 L146 1557 A111.5 10.8 0 0 0 369 1557 L369 1484" fill="#fff" stroke="#000" stroke-width="3.7"/>
<ellipse cx="257.5" cy="1484" rx="111.5" ry="10.8" fill="#fff" stroke="#000" stroke-width="3.7"/>
<text transform="translate(0 1536) scale(0.9667 1)" x="223.31 252.56 282.91" y="0" font-size="40.1" font-family="Liberation Sans" fill="#000" stroke="#000" stroke-width="0.45">BDS</text>
<line x1="370.9" y1="1520.6" x2="477" y2="1520.6" stroke="#000" stroke-width="1.6" stroke-linecap="butt"/>
<path d="M499.2 1520.6 L474.2 1532.6 L474.2 1508.6 Z" fill="#000"/>
<g fill="#000"><rect x="456.6" y="1621.5" width="101.9" height="84.9" fill="none" stroke="#000" stroke-width="2.8"/><rect x="463.5" y="1628.6" width="85" height="64.9" fill="none" stroke="#000" stroke-width="2.8"/><rect x="448.2" y="1714.1" width="114.7" height="3.6"/><rect x="556.5" y="1717.7" width="9.1" height="3.2"/><rect x="445" y="1717.7" width="3.2" height="3.2"/><rect x="441.8" y="1720.9" width="3.2" height="3.2"/><rect x="438.6" y="1724.1" width="3.2" height="3.2"/><rect x="435.4" y="1727.3" width="3.2" height="3.2"/><rect x="432.2" y="1730.5" width="3.2" height="3.2"/><rect x="429" y="1733.7" width="3.2" height="3.2"/><rect x="425.8" y="1736.9" width="3.2" height="3.2"/><rect x="422.6" y="1740.1" width="3.2" height="3.2"/><rect x="419.1" y="1744.1" width="113.7" height="2.8"/><rect x="419.1" y="1750" width="113.7" height="3.7"/><rect x="445" y="1724.1" width="10" height="3.2"/><rect x="445" y="1724.1" width="3.2" height="6.4"/><rect x="439.1" y="1730.5" width="5.9" height="3.2"/><rect x="455" y="1720.9" width="3.2" height="3.2"/><rect x="461.4" y="1720.9" width="3.2" height="3.2"/><rect x="467.8" y="1720.9" width="3.2" height="3.2"/><rect x="474.1" y="1720.9" width="3.2" height="3.2"/><rect x="480.5" y="1720.9" width="3.2" height="3.2"/><rect x="486.9" y="1720.9" width="3.2" height="3.2"/><rect x="493.3" y="1720.9" width="3.2" height="3.2"/><rect x="499.6" y="1720.9" width="3.2" height="3.2"/><rect x="507.4" y="1720.9" width="3.2" height="3.2"/><rect x="458.2" y="1724.1" width="3.2" height="3.2"/><rect x="464.6" y="1724.1" width="3.2" height="3.2"/><rect x="471" y="1724.1" width="3.2" height="3.2"/><rect x="477.3" y="1724.1" width="3.2" height="3.2"/><rect x="483.7" y="1724.1" width="3.2" height="3.2"/><rect x="490.1" y="1724.1" width="3.2" height="3.2"/><rect x="496.4" y="1724.1" width="3.2" height="3.2"/><rect x="502.8" y="1724.1" width="3.2" height="3.2"/><rect x="502.8" y="1727.3" width="3.2" height="3.2"/><rect x="499.6" y="1730.5" width="3.2" height="3.2"/><rect x="496.4" y="1733.7" width="3.2" height="3.2"/><rect x="435" y="1737.3" width="58.7" height="3.6"/><rect x="511" y="1737.3" width="18.7" height="3.6"/><rect x="527.4" y="1720.9" width="3.2" height="3.2"/><rect x="533.7" y="1720.9" width="3.2" height="3.2"/><rect x="540.1" y="1720.9" width="6.4" height="6.4"/><rect x="524.2" y="1724.1" width="3.2" height="3.2"/><rect x="530.6" y="1724.1" width="3.2" height="3.2"/><rect x="537" y="1724.1" width="3.2" height="3.2"/><rect x="516.9" y="1730.9" width="3.2" height="2.8"/><rect x="530.1" y="1730.9" width="6.9" height="2.8"/><rect x="553.2" y="1721.3" width="3.2" height="3.2"/><rect x="550.15" y="1724.45" width="3.2" height="3.2"/><rect x="547.1" y="1727.6" width="3.2" height="3.2"/><rect x="544.05" y="1730.75" width="3.2" height="3.2"/><rect x="541" y="1733.9" width="3.2" height="3.2"/><rect x="537.95" y="1737.05" width="3.2" height="3.2"/><rect x="534.9" y="1740.2" width="3.2" height="3.2"/><rect x="531.85" y="1743.35" width="3.2" height="3.2"/><rect x="560" y="1721.3" width="3.2" height="3.2"/><rect x="556.95" y="1724.45" width="3.2" height="3.2"/><rect x="553.9" y="1727.6" width="3.2" height="3.2"/><rect x="550.85" y="1730.75" width="3.2" height="3.2"/><rect x="547.8" y="1733.9" width="3.2" height="3.2"/><rect x="544.75" y="1737.05" width="3.2" height="3.2"/><rect x="541.7" y="1740.2" width="3.2" height="3.2"/><rect x="538.65" y="1743.35" width="3.2" height="3.2"/><rect x="535.6" y="1746.5" width="3.2" height="3.2"/><rect x="579.3" y="1714.1" width="3.2" height="3.2"/><rect x="586.3" y="1714.1" width="3.2" height="3.2"/><rect x="592.4" y="1714.1" width="3.2" height="3.2"/><rect x="595.6" y="1714.1" width="3.2" height="3.2"/><rect x="599.5" y="1714.1" width="3.2" height="3.2"/><rect x="605.4" y="1714.1" width="3.2" height="3.2"/><rect x="608.6" y="1714.1" width="3.2" height="3.2"/><rect x="612.2" y="1714.1" width="3.2" height="3.2"/><rect x="576.2" y="1718" width="3.2" height="3.2"/><rect x="582.6" y="1718" width="3.2" height="3.2"/><rect x="589.2" y="1718" width="3.2" height="3.2"/><rect x="596.2" y="1718" width="3.2" height="3.2"/><rect x="602.3" y="1718" width="3.2" height="3.2"/><rect x="609.1" y="1718" width="3.2" height="3.2"/><rect x="615.5" y="1718" width="3.2" height="3.2"/><rect x="618.3" y="1714.1" width="3.5" height="107.8"/><rect x="573.2" y="1721.3" width="3.2" height="3.2"/><rect x="569.82" y="1724.48" width="3.2" height="3.2"/><rect x="566.44" y="1727.66" width="3.2" height="3.2"/><rect x="563.06" y="1730.84" width="3.2" height="3.2"/><rect x="559.68" y="1734.02" width="3.2" height="3.2"/><rect x="556.3" y="1737.2" width="3.2" height="3.2"/><rect x="612.6" y="1721.3" width="3.2" height="3.2"/><rect x="609.4" y="1724.5" width="3.2" height="3.2"/><rect x="606.2" y="1727.7" width="3.2" height="3.2"/><rect x="603" y="1730.9" width="3.2" height="3.2"/><rect x="599.8" y="1734.1" width="3.2" height="3.2"/><rect x="596.6" y="1737.3" width="3.2" height="3.2"/><rect x="553.2" y="1741" width="3.2" height="3.2"/><rect x="560.5" y="1741" width="3.2" height="3.2"/><rect x="566.4" y="1741" width="3.2" height="3.2"/><rect x="573.4" y="1741" width="3.2" height="3.2"/><rect x="579.5" y="1741" width="3.2" height="3.2"/><rect x="586.3" y="1741" width="3.2" height="3.2"/><rect x="550.2" y="1743.6" width="3.2" height="3.2"/><rect x="556.3" y="1743.6" width="3.2" height="3.2"/><rect x="559.5" y="1743.6" width="3.2" height="3.2"/><rect x="563.3" y="1743.6" width="3.2" height="3.2"/><rect x="569.2" y="1743.6" width="3.2" height="3.2"/><rect x="572.4" y="1743.6" width="3.2" height="3.2"/><rect x="576.2" y="1743.6" width="3.2" height="3.2"/><rect x="582.3" y="1743.6" width="3.2" height="3.2"/><rect x="585.5" y="1743.6" width="3.2" height="3.2"/><rect x="589.2" y="1743.6" width="3.2" height="3.2"/><rect x="550.2" y="1750.1" width="3.2" height="3.2"/><rect x="550.2" y="1750.1" width="2.8" height="3.1"/><rect x="550.2" y="1756.65" width="2.8" height="3.1"/><rect x="550.2" y="1763.2" width="2.8" height="3.1"/><rect x="550.2" y="1769.75" width="2.8" height="3.1"/><rect x="550.2" y="1776.3" width="2.8" height="3.1"/><rect x="550.2" y="1782.85" width="2.8" height="3.1"/><rect x="550.2" y="1789.4" width="2.8" height="3.1"/><rect x="550.2" y="1795.95" width="2.8" height="3.1"/><rect x="550.2" y="1802.5" width="2.8" height="3.1"/><rect x="550.2" y="1809.05" width="2.8" height="3.1"/><rect x="550.2" y="1815.6" width="2.8" height="3.1"/><rect x="550.2" y="1822.15" width="2.8" height="3.1"/><rect x="550.2" y="1828.7" width="2.8" height="3.1"/><rect x="550.2" y="1835.25" width="2.8" height="3.1"/><rect x="592.2" y="1741" width="3.5" height="103.5"/><rect x="557.85" y="1752.05" width="29.2" height="28.9" fill="none" stroke="#000" stroke-width="3.7"/><rect x="550.2" y="1841.2" width="48.4" height="3.4"/><path d="M598.6 1844.6 L598.6 1841.2 L604.2 1835.5 L604.2 1832.3 L610.2 1826.4 L610.2 1823.4 L615.8 1819.3 L621.8 1819.3 L621.8 1821.9 L616.7 1826.5 L612.4 1826.5 L612.4 1830.8 L606.7 1835.9 L606.7 1838.9 L602.4 1842.1 L602.4 1844.6 Z"/></g>
<text transform="translate(0 1816.7) scale(0.9410 1)" x="450.52 475.27 500.68" y="0" font-size="39.81" font-family="Liberation Sans" fill="#000" stroke="#000" stroke-width="0.45">121</text>
<path d="M214.7 1922.5 L214.7 1933.8 C214.7 1944 208 1949 196 1950.5 C180 1952.5 164 1953.5 155 1958 C143 1966 132 1976 120.3 1985.3" fill="none" stroke="#000" stroke-width="1"/>
<text transform="translate(0 2036) scale(0.9661 1)" x="67.4 93.09" y="0" font-size="41.39" font-family="Liberation Sans" fill="#000" stroke="#000" stroke-width="0.45">12</text>
<line x1="643.7" y1="1618.3" x2="725.19" y2="2089.59" stroke="#000" stroke-width="1.6" stroke-linecap="butt"/>
<path d="M728.6 2109.3 L712.52 2086.71 L736.16 2082.62 Z" fill="#000"/>
<rect x="533" y="1978" width="947" height="538" fill="none" stroke="#000" stroke-width="4"/>
<rect x="1107" y="2031.5" width="287" height="193" fill="none" stroke="#000" stroke-width="3.8"/>
<rect x="1107" y="2270.8" width="287" height="194" fill="none" stroke="#000" stroke-width="3.8"/>
<text transform="translate(0 2070.4) scale(0.8386 1)" x="1446.55 1476.24 1505.61" y="0" font-size="43.82" font-family="Liberation Sans" fill="#000" stroke="#000" stroke-width="0.45">SPA</text>
<text transform="translate(0 2311) scale(0.8277 1)" x="1458.52 1488.01 1518.26" y="0" font-size="43.54" font-family="Liberation Sans" fill="#000" stroke="#000" stroke-width="0.45">SPW</text>
<path d="M618.2 2122.7 L618.2 2195.6 A111.9 11.3 0 0 0 842 2195.6 L842 2122.7" fill="#fff" stroke="#000" stroke-width="3.7"/>
<ellipse cx="730.1" cy="2122.7" rx="111.9" ry="11.3" fill="#fff" stroke="#000" stroke-width="3.7"/>
<text transform="translate(0 2172.7) scale(1.0082 1)" x="685.35 711.94 740.17" y="0" font-size="39.1" font-family="Liberation Sans" fill="#000" stroke="#000" stroke-width="0.45">BDT</text>
<g fill="#000"><rect x="766.6" y="2241.5" width="101.9" height="84.9" fill="none" stroke="#000" stroke-width="2.8"/><rect x="773.5" y="2248.6" width="85" height="64.9" fill="none" stroke="#000" stroke-width="2.8"/><rect x="758.2" y="2334.1" width="114.7" height="3.6"/><rect x="866.5" y="2337.7" width="9.1" height="3.2"/><rect x="755" y="2337.7" width="3.2" height="3.2"/><rect x="751.8" y="2340.9" width="3.2" height="3.2"/><rect x="748.6" y="2344.1" width="3.2" height="3.2"/><rect x="745.4" y="2347.3" width="3.2" height="3.2"/><rect x="742.2" y="2350.5" width="3.2" height="3.2"/><rect x="739" y="2353.7" width="3.2" height="3.2"/><rect x="735.8" y="2356.9" width="3.2" height="3.2"/><rect x="732.6" y="2360.1" width="3.2" height="3.2"/><rect x="729.1" y="2364.1" width="113.7" height="2.8"/><rect x="729.1" y="2370" width="113.7" height="3.7"/><rect x="755" y="2344.1" width="10" height="3.2"/><rect x="755" y="2344.1" width="3.2" height="6.4"/><rect x="749.1" y="2350.5" width="5.9" height="3.2"/><rect x="765" y="2340.9" width="3.2" height="3.2"/><rect x="771.4" y="2340.9" width="3.2" height="3.2"/><rect x="777.8" y="2340.9" width="3.2" height="3.2"/><rect x="784.1" y="2340.9" width="3.2" height="3.2"/><rect x="790.5" y="2340.9" width="3.2" height="3.2"/><rect x="796.9" y="2340.9" width="3.2" height="3.2"/><rect x="803.3" y="2340.9" width="3.2" height="3.2"/><rect x="809.6" y="2340.9" width="3.2" height="3.2"/><rect x="817.4" y="2340.9" width="3.2" height="3.2"/><rect x="768.2" y="2344.1" width="3.2" height="3.2"/><rect x="774.6" y="2344.1" width="3.2" height="3.2"/><rect x="781" y="2344.1" width="3.2" height="3.2"/><rect x="787.3" y="2344.1" width="3.2" height="3.2"/><rect x="793.7" y="2344.1" width="3.2" height="3.2"/><rect x="800.1" y="2344.1" width="3.2" height="3.2"/><rect x="806.4" y="2344.1" width="3.2" height="3.2"/><rect x="812.8" y="2344.1" width="3.2" height="3.2"/><rect x="812.8" y="2347.3" width="3.2" height="3.2"/><rect x="809.6" y="2350.5" width="3.2" height="3.2"/><rect x="806.4" y="2353.7" width="3.2" height="3.2"/><rect x="745" y="2357.3" width="58.7" height="3.6"/><rect x="821" y="2357.3" width="18.7" height="3.6"/><rect x="837.4" y="2340.9" width="3.2" height="3.2"/><rect x="843.7" y="2340.9" width="3.2" height="3.2"/><rect x="850.1" y="2340.9" width="6.4" height="6.4"/><rect x="834.2" y="2344.1" width="3.2" height="3.2"/><rect x="840.6" y="2344.1" width="3.2" height="3.2"/><rect x="847" y="2344.1" width="3.2" height="3.2"/><rect x="826.9" y="2350.9" width="3.2" height="2.8"/><rect x="840.1" y="2350.9" width="6.9" height="2.8"/><rect x="863.2" y="2341.3" width="3.2" height="3.2"/><rect x="860.15" y="2344.45" width="3.2" height="3.2"/><rect x="857.1" y="2347.6" width="3.2" height="3.2"/><rect x="854.05" y="2350.75" width="3.2" height="3.2"/><rect x="851" y="2353.9" width="3.2" height="3.2"/><rect x="847.95" y="2357.05" width="3.2" height="3.2"/><rect x="844.9" y="2360.2" width="3.2" height="3.2"/><rect x="841.85" y="2363.35" width="3.2" height="3.2"/><rect x="870" y="2341.3" width="3.2" height="3.2"/><rect x="866.95" y="2344.45" width="3.2" height="3.2"/><rect x="863.9" y="2347.6" width="3.2" height="3.2"/><rect x="860.85" y="2350.75" width="3.2" height="3.2"/><rect x="857.8" y="2353.9" width="3.2" height="3.2"/><rect x="854.75" y="2357.05" width="3.2" height="3.2"/><rect x="851.7" y="2360.2" width="3.2" height="3.2"/><rect x="848.65" y="2363.35" width="3.2" height="3.2"/><rect x="845.6" y="2366.5" width="3.2" height="3.2"/><rect x="889.3" y="2334.1" width="3.2" height="3.2"/><rect x="896.3" y="2334.1" width="3.2" height="3.2"/><rect x="902.4" y="2334.1" width="3.2" height="3.2"/><rect x="905.6" y="2334.1" width="3.2" height="3.2"/><rect x="909.5" y="2334.1" width="3.2" height="3.2"/><rect x="915.4" y="2334.1" width="3.2" height="3.2"/><rect x="918.6" y="2334.1" width="3.2" height="3.2"/><rect x="922.2" y="2334.1" width="3.2" height="3.2"/><rect x="886.2" y="2338" width="3.2" height="3.2"/><rect x="892.6" y="2338" width="3.2" height="3.2"/><rect x="899.2" y="2338" width="3.2" height="3.2"/><rect x="906.2" y="2338" width="3.2" height="3.2"/><rect x="912.3" y="2338" width="3.2" height="3.2"/><rect x="919.1" y="2338" width="3.2" height="3.2"/><rect x="925.5" y="2338" width="3.2" height="3.2"/><rect x="928.3" y="2334.1" width="3.5" height="107.8"/><rect x="883.2" y="2341.3" width="3.2" height="3.2"/><rect x="879.82" y="2344.48" width="3.2" height="3.2"/><rect x="876.44" y="2347.66" width="3.2" height="3.2"/><rect x="873.06" y="2350.84" width="3.2" height="3.2"/><rect x="869.68" y="2354.02" width="3.2" height="3.2"/><rect x="866.3" y="2357.2" width="3.2" height="3.2"/><rect x="922.6" y="2341.3" width="3.2" height="3.2"/><rect x="919.4" y="2344.5" width="3.2" height="3.2"/><rect x="916.2" y="2347.7" width="3.2" height="3.2"/><rect x="913" y="2350.9" width="3.2" height="3.2"/><rect x="909.8" y="2354.1" width="3.2" height="3.2"/><rect x="906.6" y="2357.3" width="3.2" height="3.2"/><rect x="863.2" y="2361" width="3.2" height="3.2"/><rect x="870.5" y="2361" width="3.2" height="3.2"/><rect x="876.4" y="2361" width="3.2" height="3.2"/><rect x="883.4" y="2361" width="3.2" height="3.2"/><rect x="889.5" y="2361" width="3.2" height="3.2"/><rect x="896.3" y="2361" width="3.2" height="3.2"/><rect x="860.2" y="2363.6" width="3.2" height="3.2"/><rect x="866.3" y="2363.6" width="3.2" height="3.2"/><rect x="869.5" y="2363.6" width="3.2" height="3.2"/><rect x="873.3" y="2363.6" width="3.2" height="3.2"/><rect x="879.2" y="2363.6" width="3.2" height="3.2"/><rect x="882.4" y="2363.6" width="3.2" height="3.2"/><rect x="886.2" y="2363.6" width="3.2" height="3.2"/><rect x="892.3" y="2363.6" width="3.2" height="3.2"/><rect x="895.5" y="2363.6" width="3.2" height="3.2"/><rect x="899.2" y="2363.6" width="3.2" height="3.2"/><rect x="860.2" y="2370.1" width="3.2" height="3.2"/><rect x="860.2" y="2370.1" width="2.8" height="3.1"/><rect x="860.2" y="2376.65" width="2.8" height="3.1"/><rect x="860.2" y="2383.2" width="2.8" height="3.1"/><rect x="860.2" y="2389.75" width="2.8" height="3.1"/><rect x="860.2" y="2396.3" width="2.8" height="3.1"/><rect x="860.2" y="2402.85" width="2.8" height="3.1"/><rect x="860.2" y="2409.4" width="2.8" height="3.1"/><rect x="860.2" y="2415.95" width="2.8" height="3.1"/><rect x="860.2" y="2422.5" width="2.8" height="3.1"/><rect x="860.2" y="2429.05" width="2.8" height="3.1"/><rect x="860.2" y="2435.6" width="2.8" height="3.1"/><rect x="860.2" y="2442.15" width="2.8" height="3.1"/><rect x="860.2" y="2448.7" width="2.8" height="3.1"/><rect x="860.2" y="2455.25" width="2.8" height="3.1"/><rect x="902.2" y="2361" width="3.5" height="103.5"/><rect x="867.85" y="2372.05" width="29.2" height="28.9" fill="none" stroke="#000" stroke-width="3.7"/><rect x="860.2" y="2461.2" width="48.4" height="3.4"/><path d="M908.6 2464.6 L908.6 2461.2 L914.2 2455.5 L914.2 2452.3 L920.2 2446.4 L920.2 2443.4 L925.8 2439.3 L931.8 2439.3 L931.8 2441.9 L926.7 2446.5 L922.4 2446.5 L922.4 2450.8 L916.7 2455.9 L916.7 2458.9 L912.4 2462.1 L912.4 2464.6 Z"/></g>
<text transform="translate(0 2434.1) scale(0.9141 1)" x="810.65 836.55 861.96" y="0" font-size="40.67" font-family="Liberation Sans" fill="#000" stroke="#000" stroke-width="0.45">131</text>
<path d="M531.2 2313.3 C515 2316 503 2324 497.6 2333 C490 2345 489 2356 486 2367.8 C482 2382 478 2390 473 2396.3 C468 2403 462 2406 456.3 2409.2 C445 2414 430 2415.4 415 2415.4" fill="none" stroke="#000" stroke-width="1"/>
<text transform="translate(0 2429.9) scale(0.9243 1)" x="387.03 413.54" y="0" font-size="41.68" font-family="Liberation Sans" fill="#000" stroke="#000" stroke-width="0.45">13</text>
<line x1="863.86" y1="2156.66" x2="1085.34" y2="2130.54" stroke="#000" stroke-width="2" stroke-linecap="butt"/>
<path d="M1105.2 2128.2 L1082.77 2142.93 L1079.96 2119.09 Z" fill="#000"/>
<path d="M844 2159 L866.43 2144.27 L869.24 2168.11 Z" fill="#000"/>
<line x1="859.63" y1="2171.48" x2="1089.57" y2="2355.12" stroke="#000" stroke-width="2" stroke-linecap="butt"/>
<path d="M1105.2 2367.6 L1078.96 2362 L1093.94 2343.25 Z" fill="#000"/>
<path d="M844 2159 L870.24 2164.6 L855.26 2183.35 Z" fill="#000"/>
<line x1="1396.2" y1="2366" x2="1609.46" y2="1668.13" stroke="#000" stroke-width="1.8" stroke-dasharray="8 3.5 1.6 3.5" stroke-linecap="butt"/>
<path d="M1615.3 1649 L1619.47 1676.42 L1596.52 1669.4 Z" fill="#000"/>
<line x1="1396.2" y1="2366" x2="1727.24" y2="1892.03" stroke="#000" stroke-width="1.8" stroke-dasharray="8 3.5 1.6 3.5" stroke-linecap="butt"/>
<path d="M1714.06 1897.37 L1728.1 1890.8 L1726.77 1906.24" fill="none" stroke="#000" stroke-width="1.8" stroke-linejoin="miter" stroke-linecap="square"/>
<path d="M1522 1738.3 L1620.7 1738.3 L1610.5 1791.4 L1512.4 1791.4 Z" fill="#fff" stroke="#000" stroke-width="1.2"/>
<text transform="translate(0 1775.8) scale(0.9420 1)" x="1622.54 1642.82 1662.8 1683.09" y="0" font-size="32.65" font-family="Liberation Sans" fill="#000" stroke="#000" stroke-width="0.45">1410</text>
<path d="M1596.6 1987.4 L1694.4 1987.4 L1685.5 2040.2 L1587 2040.2 Z" fill="#fff" stroke="#000" stroke-width="1.2"/>
<text transform="translate(0 2024) scale(0.9727 1)" x="1649.15 1668.1 1686.76 1705.72" y="0" font-size="30.51" font-family="Liberation Sans" fill="#000" stroke="#000" stroke-width="0.45">1410</text>
<rect x="1578.8" y="1474.8" width="99.3" height="85.2" fill="#fff" stroke="#000" stroke-width="3.7"/>
<rect x="1585.4" y="1481.5" width="84" height="65.8" fill="#fff" stroke="#000" stroke-width="3"/>
<rect x="1569.6" y="1566.6" width="115.6" height="33.3" fill="#fff" stroke="#000" stroke-width="3.5"/>
<path d="M1633.2 1568 L1633.2 1583.4 L1686 1583.4" fill="none" stroke="#000" stroke-width="2.8"/>
<g fill="#000"><rect x="1571" y="1605.2" width="115.7" height="2.9"/><rect x="1571" y="1608" width="3.2" height="3.8"/><rect x="1680.9" y="1608" width="5.8" height="3.8"/><rect x="1574.2" y="1611.8" width="3.2" height="3.2"/><rect x="1580.55" y="1611.8" width="3.2" height="3.2"/><rect x="1586.9" y="1611.8" width="3.2" height="3.2"/><rect x="1593.25" y="1611.8" width="3.2" height="3.2"/><rect x="1599.6" y="1611.8" width="3.2" height="3.2"/><rect x="1605.95" y="1611.8" width="3.2" height="3.2"/><rect x="1612.3" y="1611.8" width="3.2" height="3.2"/><rect x="1618.65" y="1611.8" width="3.2" height="3.2"/><rect x="1625" y="1611.8" width="3.2" height="3.2"/><rect x="1631.35" y="1611.8" width="3.2" height="3.2"/><rect x="1577.4" y="1614.9" width="3.2" height="3.2"/><rect x="1583.75" y="1614.9" width="3.2" height="3.2"/><rect x="1590.1" y="1614.9" width="3.2" height="3.2"/><rect x="1596.45" y="1614.9" width="3.2" height="3.2"/><rect x="1602.8" y="1614.9" width="3.2" height="3.2"/><rect x="1609.15" y="1614.9" width="3.2" height="3.2"/><rect x="1615.5" y="1614.9" width="3.2" height="3.2"/><rect x="1621.85" y="1614.9" width="3.2" height="3.2"/><rect x="1628.2" y="1614.9" width="3.2" height="3.2"/><rect x="1565.1" y="1611.8" width="6" height="3.2"/><rect x="1645.1" y="1611.8" width="3.2" height="3.2"/><rect x="1651.45" y="1611.8" width="3.2" height="3.2"/><rect x="1657.8" y="1611.8" width="3.2" height="3.2"/><rect x="1664.15" y="1611.8" width="3.2" height="3.2"/><rect x="1642" y="1614.9" width="3.2" height="3.2"/><rect x="1648.35" y="1614.9" width="3.2" height="3.2"/><rect x="1654.7" y="1614.9" width="3.2" height="3.2"/><rect x="1661.05" y="1614.9" width="3.2" height="3.2"/><rect x="1622" y="1614.9" width="9.5" height="3.2"/><rect x="1619" y="1618.1" width="6.8" height="3.6"/><rect x="1613.5" y="1624.9" width="5.5" height="3.1"/><rect x="1558.3" y="1628" width="54.7" height="3.2"/><rect x="1629.3" y="1628" width="21.7" height="3.2"/><rect x="1641.9" y="1618.1" width="3.2" height="3.3"/><rect x="1638.7" y="1621.4" width="3.2" height="3.3"/><rect x="1635.5" y="1624.7" width="3.2" height="3.3"/><rect x="1632.3" y="1628" width="3.2" height="3.3"/><rect x="1629.1" y="1631.3" width="3.2" height="3.3"/><rect x="1657.8" y="1618.1" width="3.2" height="3.3"/><rect x="1654.6" y="1621.4" width="3.2" height="3.3"/><rect x="1651.4" y="1624.7" width="3.2" height="3.3"/><rect x="1648.2" y="1628" width="3.2" height="3.3"/><rect x="1561.9" y="1614.9" width="3.2" height="3.2"/><rect x="1568.3" y="1614.9" width="3.2" height="3.2"/><rect x="1558.8" y="1618.1" width="3.2" height="3.2"/><rect x="1565.2" y="1618.1" width="3.2" height="3.2"/><rect x="1555.7" y="1621.3" width="3.2" height="3.2"/><rect x="1562.1" y="1621.3" width="3.2" height="3.2"/><rect x="1552.6" y="1624.5" width="3.2" height="3.2"/><rect x="1559" y="1624.5" width="3.2" height="3.2"/><rect x="1549.5" y="1627.7" width="3.2" height="3.2"/><rect x="1555.9" y="1627.7" width="3.2" height="3.2"/><rect x="1546.4" y="1630.9" width="3.2" height="3.2"/><rect x="1552.8" y="1630.9" width="3.2" height="3.2"/><rect x="1543.3" y="1634.1" width="3.2" height="3.2"/><rect x="1549.7" y="1634.1" width="3.2" height="3.2"/><rect x="1545.7" y="1631.2" width="6.3" height="3.2"/><rect x="1683.5" y="1611.8" width="3.2" height="3.2"/><rect x="1677.1" y="1611.8" width="3.2" height="3.2"/><rect x="1680.4" y="1615" width="3.2" height="3.2"/><rect x="1674" y="1615" width="3.2" height="3.2"/><rect x="1677.3" y="1618.2" width="3.2" height="3.2"/><rect x="1670.9" y="1618.2" width="3.2" height="3.2"/><rect x="1674.2" y="1621.4" width="3.2" height="3.2"/><rect x="1667.8" y="1621.4" width="3.2" height="3.2"/><rect x="1671.1" y="1624.6" width="3.2" height="3.2"/><rect x="1664.7" y="1624.6" width="3.2" height="3.2"/><rect x="1668" y="1627.8" width="3.2" height="3.2"/><rect x="1661.6" y="1627.8" width="3.2" height="3.2"/><rect x="1664.9" y="1631" width="3.2" height="3.2"/><rect x="1658.5" y="1631" width="3.2" height="3.2"/><rect x="1661.8" y="1634.2" width="3.2" height="3.2"/><rect x="1655.4" y="1634.2" width="3.2" height="3.2"/></g>
<path d="M1542 1634.4 L1660 1634.4 L1657 1648 L1542 1648 Z" fill="url(#chk32)"/>
<text transform="translate(0 1599.7) scale(0.9455 1)" x="1806.89 1832.64 1857.99" y="0" font-size="41.13" font-family="Liberation Sans" fill="#000" stroke="#000" stroke-width="0.45">141</text>
<text transform="translate(0 1422.6) scale(1.0071 1)" x="1788.47 1814.02" y="0" font-size="41.13" font-family="Liberation Sans" fill="#000" stroke="#000" stroke-width="0.45">14</text>
<text transform="translate(0 1687.2) scale(1.0153 1)" x="1791.66 1816.6 1840.85" y="0" font-size="39.96" font-family="Liberation Sans" fill="#000" stroke="#000" stroke-width="0.45">142</text>
<path d="M1797 1434.8 C1793.08 1439.58 1779.15 1454.65 1773.5 1463.5 C1767.85 1472.35 1764.98 1480.65 1763.1 1487.9 C1761.22 1495.15 1762.2 1500.05 1762.2 1507 C1762.2 1513.95 1763.38 1523.8 1763.1 1529.6 C1762.82 1535.4 1762.1 1537.45 1760.5 1541.8 C1758.9 1546.15 1754.67 1553.38 1753.5 1555.7" fill="none" stroke="#000" stroke-width="1"/>
<path d="M1817.5 1436.5 C1816.55 1444.48 1813.33 1471.2 1811.8 1484.4 C1810.27 1497.6 1808.73 1507 1808.3 1515.7 C1807.87 1524.4 1808.03 1530.8 1809.2 1536.6 C1810.37 1542.4 1809.07 1544.12 1815.3 1550.5 C1821.53 1556.88 1838.48 1567.95 1846.6 1574.9 C1854.72 1581.85 1859.8 1584.97 1864 1592.2 C1868.2 1599.43 1870.5 1609.02 1871.8 1618.3 C1873.1 1627.58 1871.8 1642.97 1871.8 1647.9" fill="none" stroke="#000" stroke-width="1"/>
<path d="M1843.1 1691.4 C1842.95 1694.58 1841.92 1705.57 1842.2 1710.5 C1842.48 1715.43 1842.92 1716.35 1844.8 1721 C1846.68 1725.65 1851.75 1734.05 1853.5 1738.4 C1855.25 1742.75 1855 1745.65 1855.3 1747.1" fill="none" stroke="#000" stroke-width="1"/>
<rect x="1730.35" y="1748.85" width="147.4" height="276.9" rx="20" ry="20" fill="#fff" stroke="#000" stroke-width="3.7"/>
<rect x="1773.7" y="1756.6" width="60.6" height="10.7" fill="#fff" stroke="#000" stroke-width="3"/>
<rect x="1739.05" y="1776.85" width="129.9" height="210.5" fill="#fff" stroke="#000" stroke-width="3.7"/>
<rect x="1741" y="1804.65" width="126" height="1.1" fill="#000"/>
<rect x="1741" y="1813.25" width="126" height="1.1" fill="#000"/>
<rect x="1741" y="1818.95" width="126" height="1.1" fill="#000"/>
<rect x="1741" y="1912.85" width="126" height="1.1" fill="#000"/>
<rect x="1741" y="1920.85" width="126" height="1.1" fill="#000"/>
<g fill="#000"><rect x="1744.2" y="1809" width="1.2" height="1.2"/><rect x="1748.4" y="1809" width="1.2" height="1.2"/><rect x="1752.6" y="1809" width="1.2" height="1.2"/><rect x="1756.8" y="1809" width="1.2" height="1.2"/><rect x="1761" y="1809" width="1.2" height="1.2"/><rect x="1765.2" y="1809" width="1.2" height="1.2"/><rect x="1769.4" y="1809" width="1.2" height="1.2"/><rect x="1773.6" y="1809" width="1.2" height="1.2"/><rect x="1777.8" y="1809" width="1.2" height="1.2"/><rect x="1782" y="1809" width="1.2" height="1.2"/><rect x="1786.2" y="1809" width="1.2" height="1.2"/><rect x="1790.4" y="1809" width="1.2" height="1.2"/><rect x="1794.6" y="1809" width="1.2" height="1.2"/><rect x="1798.8" y="1809" width="1.2" height="1.2"/><rect x="1803" y="1809" width="1.2" height="1.2"/><rect x="1807.2" y="1809" width="1.2" height="1.2"/><rect x="1811.4" y="1809" width="1.2" height="1.2"/><rect x="1815.6" y="1809" width="1.2" height="1.2"/><rect x="1819.8" y="1809" width="1.2" height="1.2"/><rect x="1824" y="1809" width="1.2" height="1.2"/><rect x="1828.2" y="1809" width="1.2" height="1.2"/><rect x="1832.4" y="1809" width="1.2" height="1.2"/><rect x="1836.6" y="1809" width="1.2" height="1.2"/><rect x="1840.8" y="1809" width="1.2" height="1.2"/><rect x="1845" y="1809" width="1.2" height="1.2"/><rect x="1849.2" y="1809" width="1.2" height="1.2"/><rect x="1853.4" y="1809" width="1.2" height="1.2"/><rect x="1857.6" y="1809" width="1.2" height="1.2"/><rect x="1861.8" y="1809" width="1.2" height="1.2"/><rect x="1825" y="1811.6" width="1.2" height="1.2"/><rect x="1829.2" y="1811.6" width="1.2" height="1.2"/><rect x="1833.4" y="1811.6" width="1.2" height="1.2"/><rect x="1837.6" y="1811.6" width="1.2" height="1.2"/><rect x="1841.8" y="1811.6" width="1.2" height="1.2"/><rect x="1846" y="1811.6" width="1.2" height="1.2"/><rect x="1850.2" y="1811.6" width="1.2" height="1.2"/><rect x="1854.4" y="1811.6" width="1.2" height="1.2"/><rect x="1858.6" y="1811.6" width="1.2" height="1.2"/><rect x="1862.8" y="1811.6" width="1.2" height="1.2"/><rect x="1743.5" y="1915.6" width="1.2" height="1.2"/><rect x="1747.7" y="1915.6" width="1.2" height="1.2"/><rect x="1751.9" y="1915.6" width="1.2" height="1.2"/><rect x="1756.1" y="1915.6" width="1.2" height="1.2"/><rect x="1760.3" y="1915.6" width="1.2" height="1.2"/><rect x="1764.5" y="1915.6" width="1.2" height="1.2"/><rect x="1768.7" y="1915.6" width="1.2" height="1.2"/><rect x="1772.9" y="1915.6" width="1.2" height="1.2"/><rect x="1777.1" y="1915.6" width="1.2" height="1.2"/><rect x="1781.3" y="1915.6" width="1.2" height="1.2"/><rect x="1785.5" y="1915.6" width="1.2" height="1.2"/><rect x="1789.7" y="1915.6" width="1.2" height="1.2"/><rect x="1793.9" y="1915.6" width="1.2" height="1.2"/><rect x="1798.1" y="1915.6" width="1.2" height="1.2"/><rect x="1802.3" y="1915.6" width="1.2" height="1.2"/><rect x="1806.5" y="1915.6" width="1.2" height="1.2"/><rect x="1810.7" y="1915.6" width="1.2" height="1.2"/><rect x="1814.9" y="1915.6" width="1.2" height="1.2"/><rect x="1819.1" y="1915.6" width="1.2" height="1.2"/><rect x="1823.3" y="1915.6" width="1.2" height="1.2"/><rect x="1827.5" y="1915.6" width="1.2" height="1.2"/><rect x="1831.7" y="1915.6" width="1.2" height="1.2"/><rect x="1835.9" y="1915.6" width="1.2" height="1.2"/><rect x="1840.1" y="1915.6" width="1.2" height="1.2"/><rect x="1844.3" y="1915.6" width="1.2" height="1.2"/><rect x="1848.5" y="1915.6" width="1.2" height="1.2"/><rect x="1852.7" y="1915.6" width="1.2" height="1.2"/><rect x="1856.9" y="1915.6" width="1.2" height="1.2"/><rect x="1861.1" y="1915.6" width="1.2" height="1.2"/><rect x="1745.6" y="1918.6" width="1.2" height="1.2"/><rect x="1749.8" y="1918.6" width="1.2" height="1.2"/><rect x="1754" y="1918.6" width="1.2" height="1.2"/><rect x="1758.2" y="1918.6" width="1.2" height="1.2"/><rect x="1762.4" y="1918.6" width="1.2" height="1.2"/><rect x="1766.6" y="1918.6" width="1.2" height="1.2"/><rect x="1770.8" y="1918.6" width="1.2" height="1.2"/><rect x="1775" y="1918.6" width="1.2" height="1.2"/><rect x="1779.2" y="1918.6" width="1.2" height="1.2"/><rect x="1783.4" y="1918.6" width="1.2" height="1.2"/><rect x="1787.6" y="1918.6" width="1.2" height="1.2"/><rect x="1791.8" y="1918.6" width="1.2" height="1.2"/><rect x="1796" y="1918.6" width="1.2" height="1.2"/><rect x="1800.2" y="1918.6" width="1.2" height="1.2"/><rect x="1804.4" y="1918.6" width="1.2" height="1.2"/><rect x="1808.6" y="1918.6" width="1.2" height="1.2"/><rect x="1812.8" y="1918.6" width="1.2" height="1.2"/><rect x="1817" y="1918.6" width="1.2" height="1.2"/><rect x="1821.2" y="1918.6" width="1.2" height="1.2"/><rect x="1825.4" y="1918.6" width="1.2" height="1.2"/><rect x="1829.6" y="1918.6" width="1.2" height="1.2"/><rect x="1833.8" y="1918.6" width="1.2" height="1.2"/><rect x="1838" y="1918.6" width="1.2" height="1.2"/><rect x="1842.2" y="1918.6" width="1.2" height="1.2"/><rect x="1846.4" y="1918.6" width="1.2" height="1.2"/><rect x="1850.6" y="1918.6" width="1.2" height="1.2"/><rect x="1854.8" y="1918.6" width="1.2" height="1.2"/><rect x="1859" y="1918.6" width="1.2" height="1.2"/><rect x="1863.2" y="1918.6" width="1.2" height="1.2"/></g>
<rect x="1743" y="1825.2" width="121" height="84.8" fill="url(#stip2)"/>
<path d="M1774.5 1901.5 L1772.5 1903.5 L1770.5 1905.5 L1768.5 1907.5 L1766.5 1907.5 L1764.5 1907.5 L1762.5 1907.5 L1760.5 1908.5 M1820.5 1875.5 L1822.5 1877.5 L1824.5 1877.5 L1826.5 1875.5 L1828.5 1873.5 L1830.5 1871.5 L1832.5 1869.5 L1834.5 1867.5 L1836.5 1865.5 M1816.5 1839.5 L1818.5 1841.5 L1820.5 1841.5 L1822.5 1841.5 L1824.5 1843.5 L1826.5 1845.5 M1779.5 1890.5 L1781.5 1888.5 L1783.5 1890.5 L1785.5 1892.5 L1787.5 1894.5 L1789.5 1896.5 M1757.5 1905.5 L1759.5 1903.5 L1761.5 1903.5 L1763.5 1903.5 L1765.5 1903.5 L1767.5 1901.5 L1769.5 1899.5 L1767.5 1897.5 L1769.5 1895.5 M1790.5 1849.5 L1792.5 1851.5 L1794.5 1853.5 L1792.5 1855.5 L1790.5 1857.5 L1788.5 1857.5 L1786.5 1859.5 L1784.5 1861.5 M1851.5 1899.5 L1849.5 1901.5 L1847.5 1899.5 L1849.5 1897.5 L1851.5 1897.5 L1853.5 1895.5 M1799.5 1897.5 L1797.5 1895.5 L1795.5 1893.5 L1793.5 1891.5 L1795.5 1889.5 L1797.5 1889.5 L1799.5 1889.5 L1801.5 1889.5 L1803.5 1887.5 M1751.5 1871.5 L1749.5 1871.5 L1747.5 1869.5 L1745.5 1867.5 M1750.5 1860.5 L1748.5 1862.5 L1746.5 1862.5 L1748.5 1860.5 L1750.5 1858.5 L1752.5 1856.5 L1754.5 1856.5 L1756.5 1858.5 M1754.5 1898.5 L1752.5 1896.5 L1750.5 1896.5 L1748.5 1894.5 L1746.5 1894.5 L1748.5 1892.5 M1772.5 1880.5 L1770.5 1878.5 L1772.5 1876.5 L1774.5 1874.5 L1776.5 1874.5 L1778.5 1876.5 M1749.5 1893.5 L1747.5 1895.5 L1745.5 1897.5 L1744.5 1899.5 L1744.5 1901.5 L1744.5 1901.5 L1744.5 1903.5 L1746.5 1905.5 L1748.5 1907.5 M1788.5 1897.5 L1790.5 1895.5 L1792.5 1893.5 L1794.5 1891.5 L1796.5 1891.5 L1798.5 1889.5 L1800.5 1889.5 M1778.5 1851.5 L1776.5 1853.5 L1774.5 1855.5 L1772.5 1857.5 L1770.5 1857.5 M1816.5 1872.5 L1814.5 1874.5 L1812.5 1876.5 L1810.5 1878.5 L1808.5 1880.5 L1806.5 1882.5 L1808.5 1884.5 M1771.5 1858.5 L1769.5 1858.5 L1767.5 1858.5 L1765.5 1856.5 L1767.5 1854.5 L1765.5 1854.5 M1826.5 1900.5 L1828.5 1898.5 L1830.5 1898.5 L1832.5 1896.5 L1834.5 1894.5 M1847.5 1859.5 L1845.5 1861.5 L1843.5 1859.5 L1841.5 1857.5 L1843.5 1855.5 L1845.5 1853.5 L1847.5 1851.5 L1845.5 1849.5 L1847.5 1847.5 M1794.5 1871.5 L1792.5 1871.5 L1790.5 1873.5 L1788.5 1875.5 L1786.5 1877.5 L1788.5 1875.5 M1837.5 1840.5 L1835.5 1838.5 L1833.5 1838.5 L1831.5 1836.5 L1833.5 1836.5 L1835.5 1834.5 L1837.5 1832.5 L1839.5 1830.5 M1782.5 1887.5 L1780.5 1887.5 L1778.5 1887.5 L1776.5 1885.5 L1778.5 1885.5 L1780.5 1885.5 L1782.5 1883.5 L1780.5 1881.5 L1778.5 1879.5 M1748.5 1836.5 L1750.5 1834.5 L1752.5 1834.5 L1750.5 1836.5 M1812.5 1880.5 L1814.5 1882.5 L1816.5 1880.5 L1818.5 1878.5 L1820.5 1876.5 L1822.5 1874.5 M1764.5 1852.5 L1762.5 1852.5 L1764.5 1850.5 L1766.5 1850.5 L1768.5 1850.5 L1770.5 1852.5 L1772.5 1852.5 L1774.5 1854.5 M1782.5 1888.5 L1780.5 1890.5 L1778.5 1892.5 L1780.5 1892.5 M1750.5 1850.5 L1752.5 1848.5 L1754.5 1846.5 L1756.5 1844.5 L1754.5 1842.5 L1752.5 1840.5 L1750.5 1838.5 M1814.5 1871.5 L1812.5 1873.5 L1810.5 1875.5 L1808.5 1877.5 L1806.5 1875.5 L1804.5 1873.5 L1802.5 1871.5 M1751.5 1904.5 L1749.5 1906.5 L1747.5 1904.5 L1745.5 1906.5 L1747.5 1908.5 L1745.5 1908.5 L1744.5 1908.5 M1821.5 1866.5 L1819.5 1868.5 L1817.5 1870.5 L1819.5 1872.5 L1817.5 1874.5 M1795.5 1903.5 L1797.5 1901.5 L1799.5 1899.5 L1797.5 1899.5 L1795.5 1897.5 L1793.5 1897.5 M1788.5 1833.5 L1790.5 1835.5 L1788.5 1837.5 L1786.5 1839.5 L1784.5 1841.5 L1782.5 1843.5 L1780.5 1843.5 M1858.5 1838.5 L1856.5 1838.5 L1858.5 1838.5 L1860.5 1840.5 L1862.5 1838.5 L1860.5 1836.5 M1764.5 1881.5 L1766.5 1883.5 L1768.5 1881.5 L1770.5 1883.5 L1768.5 1885.5 L1770.5 1887.5 L1772.5 1889.5" fill="none" stroke="#000" stroke-width="1.1" stroke-dasharray="1.2 0.9"/>
<circle cx="1804" cy="2007.1" r="12.8" fill="#000"/></svg>
</body></html>
